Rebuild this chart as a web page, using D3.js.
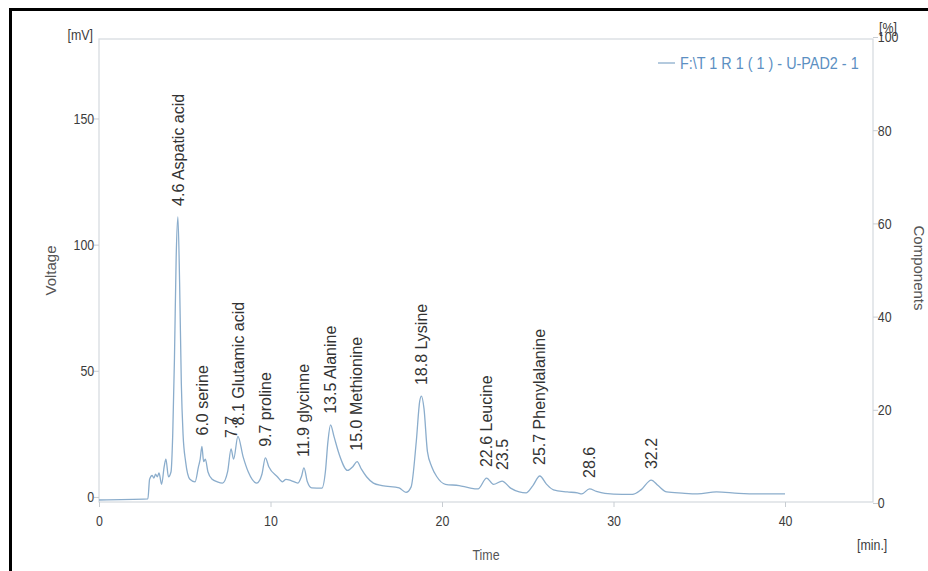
<!DOCTYPE html>
<html>
<head>
<meta charset="utf-8">
<script src="https://cdn.jsdelivr.net/npm/d3@7"></script>
<style>
  body { margin: 0; background: #fff; }
  svg { display: block; }
</style>
</head>
<body>
<div id="chart"></div>
<script>
// chromatogram trace: time (min) / signal (mV)
const times = [0, 2.85, 2.95, 3.1, 3.2, 3.3, 3.4, 3.5, 3.65, 3.8, 3.9, 4.05, 4.2, 4.3, 4.4, 4.5, 4.6, 4.7, 4.8, 4.9,
  5.05, 5.3, 5.6, 5.8, 5.9, 6.0, 6.1, 6.2, 6.35, 6.6, 6.9, 7.2, 7.5, 7.7, 7.85, 8.1, 8.4, 8.7, 9.2, 9.5,
  9.7, 9.9, 10.4, 10.7, 10.9, 11.2, 11.6, 11.8, 11.95, 12.15, 12.4, 13.0, 13.2, 13.35, 13.5, 13.7, 14.0, 14.5, 14.8, 15.05,
  15.3, 15.6, 16.0, 16.5, 17.5, 17.9, 18.2, 18.5, 18.7, 18.8, 18.95, 19.15, 19.4, 19.7, 20.2, 21.0, 21.6, 22.1, 22.6, 23.0,
  23.5, 24.0, 24.5, 24.9, 25.3, 25.7, 26.1, 26.5, 27.3, 27.9, 28.15, 28.6, 29.0, 29.5, 30.5, 31.1, 31.6, 32.2, 32.6, 33.1,
  34.0, 34.9, 36.0, 37.3, 38.5, 40.0];
const signal = [-1.2, -0.8, 7, 8.5, 7.5, 9, 8, 9.5, 5, 12, 15, 8, 10, 25, 55, 95, 111, 85, 45, 25,
  14, 7, 6, 12, 15, 20, 14, 15, 10, 7, 6, 5.5, 10, 19, 15, 24, 16, 10, 5.5, 9,
  15.5, 12, 8, 6, 7, 6.5, 5.5, 8, 11.5, 6, 3.6, 3.5, 10, 22, 28.6, 24, 17, 10.5, 12, 14,
  11, 8, 5.5, 4.5, 3.6, 1.8, 4, 22, 38, 40, 35, 18, 12, 8, 5, 4.5, 3.6, 3.2, 7.5, 5,
  6.3, 3.5, 2, 1.6, 4.5, 8.3, 5, 2.8, 2, 1.6, 1.2, 3.2, 2.2, 1.4, 1, 1, 2.8, 6.7, 4.5, 2,
  1.5, 1.2, 2, 1.4, 1.2, 1.2];

// peak annotations
const peakTimes = [4.6, 6.0, 7.7, 8.1, 9.7, 11.9, 13.5, 15.0, 18.8, 22.6, 23.5, 25.7, 28.6, 32.2];
const peakNames = ["4.6 Aspatic acid", "6.0 serine", "7.7", "8.1 Glutamic acid", "9.7 proline", "11.9 glycinne",
  "13.5 Alanine", "15.0 Methionine", "18.8 Lysine", "22.6 Leucine", "23.5", "25.7 Phenylalanine", "28.6", "32.2"];

const xTicks = [0, 10, 20, 30, 40];
const yTicks = [0, 50, 100, 150];
const y2Ticks = [0, 20, 40, 60, 80, 100];
const legendLabel = "F:\\T 1 R 1 ( 1 ) - U-PAD2 - 1";

const W = 928, H = 571;
const plotLeft = 99, plotRight = 873, plotTop = 39, plotBottom = 502;

const svg = d3.select("#chart").append("svg")
  .attr("width", W)
  .attr("height", H);

const x = d3.scaleLinear().domain([0, 45.13]).range([plotLeft, plotRight]);
const y = d3.scaleLinear().domain([-2, 181.5]).range([plotBottom, plotTop]);
const y2 = d3.scaleLinear().domain([0, 100]).range([503, 37]);

const font = "'Liberation Sans', Arial, sans-serif";
const frameColor = "#d4d9de";
const squeeze = 0.8; // tick/unit labels are set in a condensed face

// outer black frame (only top and left visible)
svg.append("path")
  .attr("d", `M10.5,${H + 5} L10.5,9.5 L${W + 5},9.5`)
  .attr("fill", "none")
  .attr("stroke", "#000")
  .attr("stroke-width", 3);

// plot frame
svg.append("rect")
  .attr("x", plotLeft).attr("y", plotTop)
  .attr("width", plotRight - plotLeft).attr("height", plotBottom - plotTop)
  .attr("fill", "none")
  .attr("stroke", frameColor)
  .attr("stroke-width", 1.2);

function styleAxis(g) {
  g.select(".domain").remove();
  g.selectAll(".tick line").attr("stroke", "#c8cdd2");
  g.selectAll(".tick text")
    .attr("fill", "#3c3c3c")
    .attr("transform", `scale(${squeeze},1)`)
    .style("font-family", font)
    .style("font-size", "15.5px");
}

svg.append("g")
  .attr("transform", `translate(0,${plotBottom})`)
  .call(d3.axisBottom(x).tickValues(xTicks).tickSize(5).tickPadding(8))
  .call(styleAxis);

svg.append("g")
  .attr("transform", `translate(${plotLeft},0)`)
  .call(d3.axisLeft(y).tickValues(yTicks).tickSize(5).tickPadding(1))
  .call(styleAxis);

svg.append("g")
  .attr("transform", `translate(${plotRight},0)`)
  .call(d3.axisRight(y2).tickValues(y2Ticks).tickSize(5).tickPadding(1))
  .call(styleAxis);

// unit labels
const unitText = (tx, ty, txt, anchor) => svg.append("text")
  .attr("transform", `translate(${tx},${ty}) scale(${squeeze},1)`)
  .attr("text-anchor", anchor)
  .attr("dy", "0.35em")
  .attr("fill", "#3c3c3c")
  .style("font-family", font)
  .style("font-size", "15.5px")
  .text(txt);

unitText(93, 35, "[mV]", "end");
unitText(879, 28, "[%]", "start");
unitText(857, 545, "[min.]", "start");

// axis titles
svg.append("text")
  .attr("transform", `translate(51,${(plotTop + plotBottom) / 2}) rotate(-90)`)
  .attr("text-anchor", "middle")
  .attr("dy", "0.35em")
  .attr("fill", "#555")
  .style("font-family", font)
  .style("font-size", "15px")
  .text("Voltage");

svg.append("text")
  .attr("transform", `translate(486,555) scale(${squeeze},1)`)
  .attr("text-anchor", "middle")
  .attr("dy", "0.35em")
  .attr("fill", "#555")
  .style("font-family", font)
  .style("font-size", "15.5px")
  .text("Time");

svg.append("text")
  .attr("transform", `translate(919,268) rotate(90)`)
  .attr("text-anchor", "middle")
  .attr("dy", "0.35em")
  .attr("fill", "#555")
  .style("font-family", font)
  .style("font-size", "15px")
  .text("Components");

// trace
const trace = times.map((t, i) => ({ t: t, v: signal[i] }));
const line = d3.line()
  .x(d => x(d.t))
  .y(d => y(d.v))
  .curve(d3.curveMonotoneX);

svg.append("path")
  .datum(trace)
  .attr("d", line)
  .attr("fill", "none")
  .attr("stroke", "#8badcc")
  .attr("stroke-width", 1.3);

// peak labels, rotated, starting just above each apex
const heightAt = t => d3.least(trace, d => Math.abs(d.t - t)).v;
svg.append("g")
  .selectAll("text")
  .data(peakTimes.map((t, i) => ({ t: t, name: peakNames[i] })))
  .join("text")
  .attr("transform", d => `translate(${x(d.t)},${y(heightAt(d.t)) - 11}) rotate(-90)`)
  .attr("dy", "0.35em")
  .attr("fill", "#333")
  .style("font-family", font)
  .style("font-size", "16px")
  .text(d => d.name);

// legend
svg.append("line")
  .attr("x1", 658).attr("x2", 675)
  .attr("y1", 63).attr("y2", 63)
  .attr("stroke", "#8badcc")
  .attr("stroke-width", 1.3);

svg.append("text")
  .attr("transform", `translate(680,63) scale(0.9,1)`)
  .attr("dy", "0.35em")
  .attr("fill", "#5c8fc2")
  .style("font-family", font)
  .style("font-size", "16px")
  .text(legendLabel);
</script>
</body>
</html>
